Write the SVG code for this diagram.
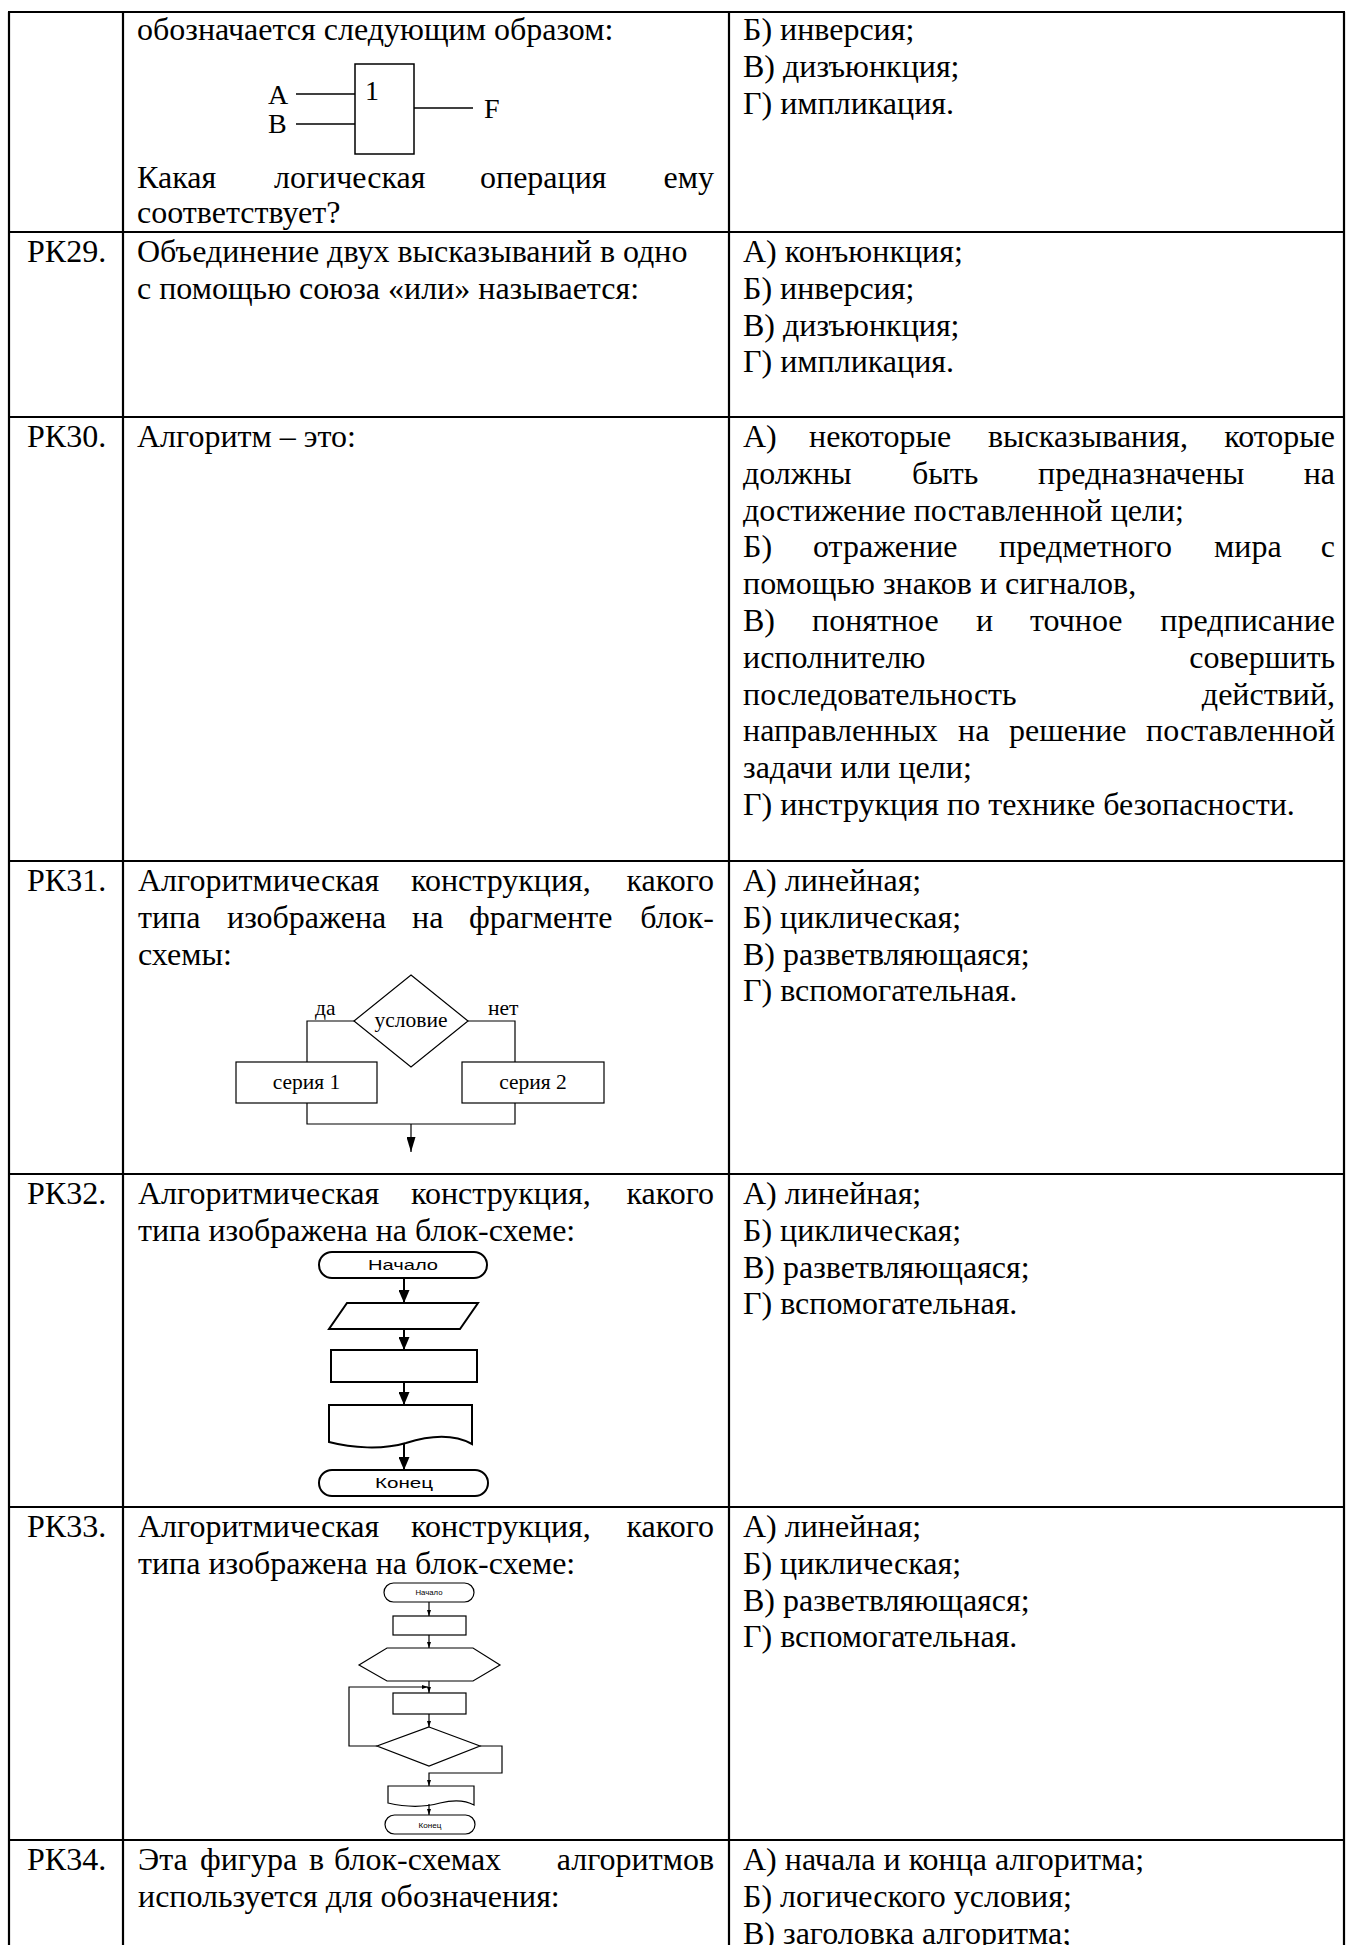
<svg xmlns="http://www.w3.org/2000/svg" width="1346" height="1945" viewBox="0 0 1346 1945">
<style>
.t{font-family:"Liberation Serif","Times New Roman",serif;font-size:32px;fill:#000}
.e{text-anchor:end}
.m{text-anchor:middle}
.sm{font-family:"Liberation Serif","Times New Roman",serif;font-size:21.5px;fill:#000}
.gt{font-family:"Liberation Serif","Times New Roman",serif;font-size:28px;fill:#000}
.sans{font-family:"Liberation Sans",Arial,sans-serif;fill:#000;text-anchor:middle}
.grid{stroke:#000;stroke-width:2.2;fill:none}
.thin{fill:none;stroke:#000;stroke-width:1.2}
.mid{fill:none;stroke:#000;stroke-width:1.5}
.bold{fill:none;stroke:#000;stroke-width:2}
</style>
<defs>
<marker id="ahL" markerUnits="userSpaceOnUse" markerWidth="13" markerHeight="11" refX="13" refY="5.5" orient="auto" viewBox="0 0 13 11"><path d="M0,0 L13,5.5 L0,11 z" fill="#000"/></marker>
<marker id="ahM" markerUnits="userSpaceOnUse" markerWidth="15" markerHeight="9" refX="15" refY="4.5" orient="auto" viewBox="0 0 15 9"><path d="M0,0 L15,4.5 L0,9 z" fill="#000"/></marker>
<marker id="ahS" markerUnits="userSpaceOnUse" markerWidth="6" markerHeight="4" refX="6" refY="2" orient="auto" viewBox="0 0 6 4"><path d="M0,0 L6,2 L0,4 z" fill="#000"/></marker>
</defs>
<rect width="1346" height="1945" fill="#fff"/>

<g id="table" class="grid">
<line x1="9" y1="12" x2="9" y2="1945"/>
<line x1="123" y1="12" x2="123" y2="1945"/>
<line x1="729" y1="12" x2="729" y2="1945"/>
<line x1="1344" y1="12" x2="1344" y2="1945"/>
<line x1="8" y1="12" x2="1345" y2="12"/>
<line x1="8" y1="232" x2="1345" y2="232"/>
<line x1="8" y1="417" x2="1345" y2="417"/>
<line x1="8" y1="861" x2="1345" y2="861"/>
<line x1="8" y1="1174" x2="1345" y2="1174"/>
<line x1="8" y1="1507" x2="1345" y2="1507"/>
<line x1="8" y1="1840" x2="1345" y2="1840"/>
</g>

<g id="row-28">
<text class="t" x="137" y="40">обозначается следующим образом:</text>
<text class="t" x="137" y="188">Какая</text>
<text class="t" x="274" y="188">логическая</text>
<text class="t" x="480" y="188">операция</text>
<text class="t e" x="714" y="188">ему</text>
<text class="t" x="137" y="223">соответствует?</text>
<text class="t" x="743" y="40">Б) инверсия;</text>
<text class="t" x="743" y="76.8">В) дизъюнкция;</text>
<text class="t" x="743" y="113.6">Г) импликация.</text>
</g>

<g id="gate">
<rect class="mid" x="355" y="64" width="59" height="90"/>
<text class="gt" x="365" y="100">1</text>
<text class="gt" x="268" y="104">A</text>
<text class="gt" x="268" y="133">B</text>
<text class="gt" x="484" y="118">F</text>
</g>

<g id="row-29">
<text class="t" x="27" y="262">РК29.</text>
<text class="t" x="137" y="262">Объединение двух высказываний в одно</text>
<text class="t" x="137" y="298.8">с помощью союза «или» называется:</text>
<text class="t" x="743" y="262">А) конъюнкция;</text>
<text class="t" x="743" y="298.8">Б) инверсия;</text>
<text class="t" x="743" y="335.6">В) дизъюнкция;</text>
<text class="t" x="743" y="372.4">Г) импликация.</text>
</g>

<g id="row-30">
<text class="t" x="27" y="447">РК30.</text>
<text class="t" x="137" y="447">Алгоритм – это:</text>
<text class="t" x="743" y="447">А)</text>
<text class="t" x="809" y="447">некоторые</text>
<text class="t" x="988" y="447">высказывания,</text>
<text class="t e" x="1335" y="447">которые</text>
<text class="t" x="743" y="483.8">должны</text>
<text class="t" x="912" y="483.8">быть</text>
<text class="t" x="1038" y="483.8">предназначены</text>
<text class="t e" x="1335" y="483.8">на</text>
<text class="t" x="743" y="520.6">достижение поставленной цели;</text>
<text class="t" x="743" y="557.4">Б)</text>
<text class="t" x="813" y="557.4">отражение</text>
<text class="t" x="999" y="557.4">предметного</text>
<text class="t" x="1214" y="557.4">мира</text>
<text class="t e" x="1335" y="557.4">с</text>
<text class="t" x="743" y="594.2">помощью знаков и сигналов,</text>
<text class="t" x="743" y="631">В)</text>
<text class="t" x="812" y="631">понятное</text>
<text class="t" x="976" y="631">и</text>
<text class="t" x="1030" y="631">точное</text>
<text class="t e" x="1335" y="631">предписание</text>
<text class="t" x="743" y="667.8">исполнителю</text>
<text class="t e" x="1335" y="667.8">совершить</text>
<text class="t" x="743" y="704.6">последовательность</text>
<text class="t e" x="1335" y="704.6">действий,</text>
<text class="t" x="743" y="741.4">направленных</text>
<text class="t" x="958" y="741.4">на</text>
<text class="t" x="1009" y="741.4">решение</text>
<text class="t e" x="1335" y="741.4">поставленной</text>
<text class="t" x="743" y="778.2">задачи или цели;</text>
<text class="t" x="743" y="815">Г) инструкция по технике безопасности.</text>
</g>

<g id="row-31">
<text class="t" x="27" y="891">РК31.</text>
<text class="t" x="138" y="891">Алгоритмическая</text>
<text class="t" x="411" y="891">конструкция,</text>
<text class="t e" x="714" y="891">какого</text>
<text class="t" x="138" y="927.8">типа</text>
<text class="t" x="227" y="927.8">изображена</text>
<text class="t" x="412" y="927.8">на</text>
<text class="t" x="469" y="927.8">фрагменте</text>
<text class="t e" x="714" y="927.8">блок-</text>
<text class="t" x="138" y="964.6">схемы:</text>
<text class="t" x="743" y="891">А) линейная;</text>
<text class="t" x="743" y="927.8">Б) циклическая;</text>
<text class="t" x="743" y="964.6">В) разветвляющаяся;</text>
<text class="t" x="743" y="1001.4">Г) вспомогательная.</text>
</g>

<g id="rk31-condition">
<polygon class="thin" points="411,975 468,1021 411,1067 354,1021"/>
<text class="sm m" x="411" y="1027">условие</text>
</g>
<g id="rk31-series1">
<rect class="thin" x="236" y="1062" width="141" height="41"/>
<text class="sm m" x="306.5" y="1089">серия 1</text>
</g>
<g id="rk31-series2">
<rect class="thin" x="462" y="1062" width="142" height="41"/>
<text class="sm m" x="533" y="1089">серия 2</text>
</g>

<g id="row-32">
<text class="t" x="27" y="1204">РК32.</text>
<text class="t" x="138" y="1204">Алгоритмическая</text>
<text class="t" x="411" y="1204">конструкция,</text>
<text class="t e" x="714" y="1204">какого</text>
<text class="t" x="138" y="1240.8">типа изображена на блок-схеме:</text>
<text class="t" x="743" y="1204">А) линейная;</text>
<text class="t" x="743" y="1240.8">Б) циклическая;</text>
<text class="t" x="743" y="1277.6">В) разветвляющаяся;</text>
<text class="t" x="743" y="1314.4">Г) вспомогательная.</text>
</g>

<g id="rk32-start">
<rect class="bold" x="319" y="1252" width="168" height="26" rx="13"/>
<text class="sans" x="403" y="1270" font-size="15" textLength="70" lengthAdjust="spacingAndGlyphs">Начало</text>
</g>
<g id="rk32-io"><polygon class="bold" points="347,1303 478,1303 460,1329 329,1329"/></g>
<g id="rk32-process"><rect class="bold" x="331" y="1350" width="146" height="32"/></g>
<g id="rk32-document"><path class="bold" d="M329,1405 H472 V1444 C452,1433 428,1436 406,1443 C382,1450 352,1448 329,1442 Z"/></g>
<g id="rk32-end">
<rect class="bold" x="319" y="1470" width="169" height="26" rx="13"/>
<text class="sans" x="404" y="1488" font-size="15" textLength="58" lengthAdjust="spacingAndGlyphs">Конец</text>
</g>

<g id="row-33">
<text class="t" x="27" y="1537">РК33.</text>
<text class="t" x="138" y="1537">Алгоритмическая</text>
<text class="t" x="411" y="1537">конструкция,</text>
<text class="t e" x="714" y="1537">какого</text>
<text class="t" x="138" y="1573.8">типа изображена на блок-схеме:</text>
<text class="t" x="743" y="1537">А) линейная;</text>
<text class="t" x="743" y="1573.8">Б) циклическая;</text>
<text class="t" x="743" y="1610.6">В) разветвляющаяся;</text>
<text class="t" x="743" y="1647.4">Г) вспомогательная.</text>
</g>

<g id="rk33-start">
<rect class="thin" x="384" y="1583" width="90" height="19" rx="9.5"/>
<text class="sans" x="429" y="1595" font-size="6.5" textLength="27" lengthAdjust="spacingAndGlyphs">Начало</text>
</g>
<g id="rk33-process1"><rect class="thin" x="393" y="1616" width="73" height="19"/></g>
<g id="rk33-loop-start"><polygon class="thin" points="387,1648 473,1648 500,1665 473,1681 387,1681 359,1665"/></g>
<g id="rk33-process2"><rect class="thin" x="393" y="1693" width="73" height="21"/></g>
<g id="rk33-decision"><polygon class="thin" points="429,1727 480,1746 429,1766 377,1746"/></g>
<g id="rk33-document"><path class="thin" d="M388,1786 H474 V1805 C465,1800 452,1800 440,1803 C422,1808 405,1807 388,1803 Z"/></g>
<g id="rk33-end">
<rect class="thin" x="385" y="1815" width="90" height="19" rx="9.5"/>
<text class="sans" x="430" y="1828" font-size="6.5" textLength="23" lengthAdjust="spacingAndGlyphs">Конец</text>
</g>

<g id="row-34">
<text class="t" x="27" y="1870">РК34.</text>
<text class="t" x="138" y="1870">Эта</text>
<text class="t" x="200" y="1870">фигура</text>
<text class="t" x="309" y="1870">в</text>
<text class="t" x="334" y="1870">блок-схемах</text>
<text class="t e" x="714" y="1870">алгоритмов</text>
<text class="t" x="138" y="1906.8">используется для обозначения:</text>
<text class="t" x="743" y="1870">А) начала и конца алгоритма;</text>
<text class="t" x="743" y="1906.8">Б) логического условия;</text>
<text class="t" x="743" y="1943.6">В) заголовка алгоритма;</text>
</g>

<g id="connectors">
<line class="mid" x1="296" y1="94" x2="355" y2="94"/>
<line class="mid" x1="296" y1="124" x2="355" y2="124"/>
<line class="mid" x1="414" y1="108" x2="473" y2="108"/>
<text class="sm" x="315" y="1015">да</text>
<text class="sm" x="488" y="1015">нет</text>
<polyline class="thin" points="354,1021 307,1021 307,1062"/>
<polyline class="thin" points="468,1021 515,1021 515,1062"/>
<polyline class="thin" points="307,1103 307,1124 515,1124 515,1103"/>
<line class="thin" x1="411" y1="1124" x2="411" y2="1152" marker-end="url(#ahM)"/>
<line class="bold" x1="404" y1="1278" x2="404" y2="1303" marker-end="url(#ahL)"/>
<line class="bold" x1="404" y1="1329" x2="404" y2="1350" marker-end="url(#ahL)"/>
<line class="bold" x1="404" y1="1382" x2="404" y2="1405" marker-end="url(#ahL)"/>
<line class="bold" x1="404" y1="1444" x2="404" y2="1470" marker-end="url(#ahL)"/>
<line class="thin" x1="429" y1="1602" x2="429" y2="1616" marker-end="url(#ahS)"/>
<line class="thin" x1="429" y1="1635" x2="429" y2="1648" marker-end="url(#ahS)"/>
<line class="thin" x1="429" y1="1681" x2="429" y2="1693" marker-end="url(#ahS)"/>
<polyline class="thin" points="377,1746 349,1746 349,1687 428,1687" marker-end="url(#ahS)"/>
<line class="thin" x1="429" y1="1714" x2="429" y2="1727" marker-end="url(#ahS)"/>
<polyline class="thin" points="480,1746 502,1746 502,1773 429,1773 429,1786" marker-end="url(#ahS)"/>
<line class="thin" x1="429" y1="1804" x2="429" y2="1815" marker-end="url(#ahS)"/>
</g>
</svg>
